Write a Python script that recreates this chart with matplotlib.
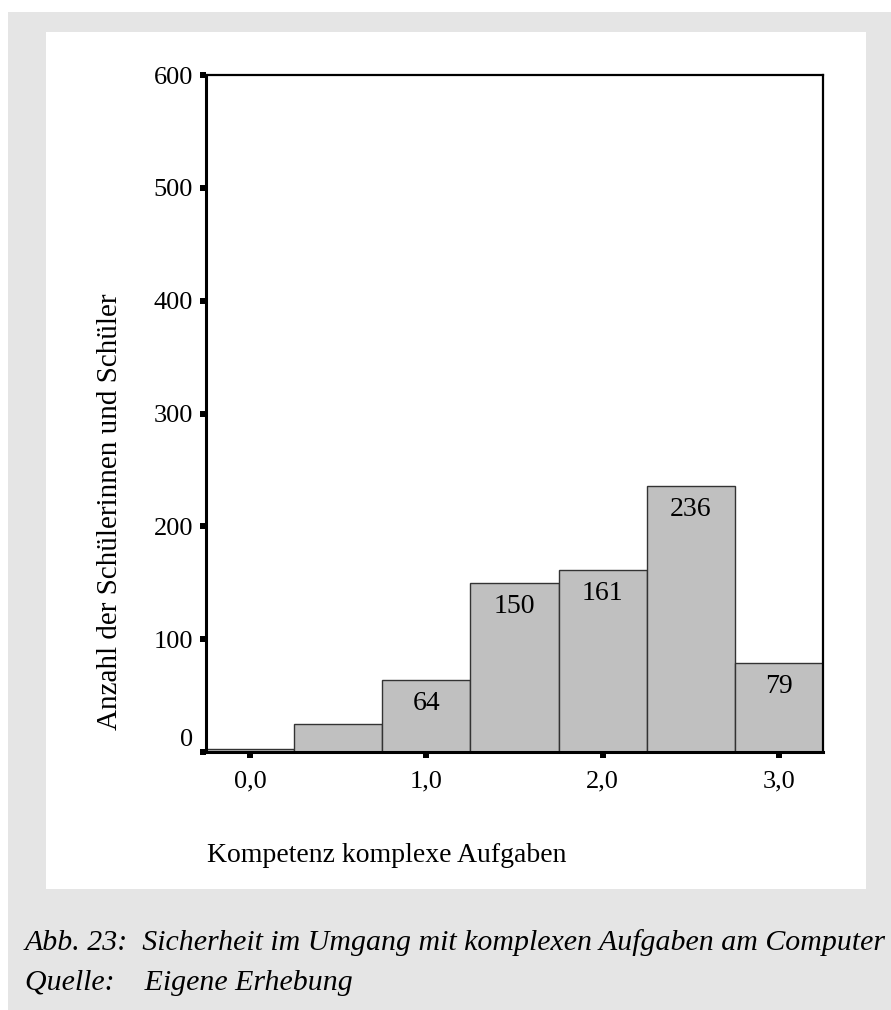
import matplotlib.pyplot as plt
import matplotlib.transforms as mtransforms
from matplotlib.patches import Rectangle

# Kompetenz komplexe Aufgaben (bin centres) and counts
bins = [0.0, 0.5, 1.0, 1.5, 2.0, 2.5, 3.0]
counts = [3, 25, 64, 150, 161, 236, 79]

xticks = [0.0, 1.0, 2.0, 3.0]
xtick_labels = ['0,0', '1,0', '2,0', '3,0']
yticks = [0, 100, 200, 300, 400, 500, 600]

xlabel = 'Kompetenz komplexe Aufgaben'
ylabel = 'Anzahl der Schülerinnen und Schüler'
caption_1 = 'Abb. 23:  Sicherheit im Umgang mit komplexen Aufgaben am Computer'
caption_2 = 'Quelle:    Eigene Erhebung'

plt.rcParams['font.family'] = ['Liberation Serif', 'DejaVu Serif']

W, H = 891, 1010
fig = plt.figure(figsize=(W / 100, H / 100), dpi=100)
fig.patch.set_facecolor('white')

# grey page frame with white chart panel
fig.patches.append(Rectangle((8 / W, 0), 1 - 8 / W, 1 - 12 / H, transform=fig.transFigure,
                             facecolor='#e5e5e5', edgecolor='none', zorder=-2))
fig.patches.append(Rectangle((46 / W, 1 - 889 / H), (866 - 46) / W, (889 - 32) / H,
                             transform=fig.transFigure, facecolor='white', edgecolor='none', zorder=-1))

ax = fig.add_axes([206 / W, 1 - 752 / H, (823 - 206) / W, (752 - 75) / H])
ax.set_facecolor('white')

ax.bar(bins, counts, width=0.5, color='#c0c0c0', edgecolor='#333333', linewidth=1.0, zorder=2)

for x, c in zip(bins, counts):
    if c > 40:
        ax.annotate(str(c), (x, c), xytext=(0, -17), textcoords='offset points',
                    ha='center', va='center', fontsize=20, zorder=3)

ax.set_xlim(-0.25, 3.25)
ax.set_ylim(0, 600)
ax.set_xticks(xticks)
ax.set_xticklabels(xtick_labels)
ax.set_yticks(yticks)

ax.tick_params(axis='y', direction='out', length=4.3, width=4.3, pad=5, labelsize=19, color='black')
ax.tick_params(axis='x', direction='out', length=4.5, width=4.3, pad=9, labelsize=19, color='black')

# shift the 0 label upward like in the original
lbl0 = ax.get_yticklabels()[0]
lbl0.set_transform(lbl0.get_transform() + mtransforms.ScaledTranslation(0, 14 / 100, fig.dpi_scale_trans))

for side in ['left', 'bottom']:
    ax.spines[side].set_linewidth(2.2)
for side in ['top', 'right']:
    ax.spines[side].set_linewidth(1.6)

fig.text(110 / W, 1 - 512 / H, ylabel, rotation=90, ha='center', va='center', fontsize=21)
fig.text(207 / W, 1 - 855 / H, xlabel, ha='left', va='center', fontsize=20)

fig.text(25 / W, 1 - 943 / H, caption_1, ha='left', va='center', fontsize=21.5, style='italic')
fig.text(25 / W, 1 - 983 / H, caption_2, ha='left', va='center', fontsize=21.5, style='italic')

fig.savefig('out.png', dpi=100)
